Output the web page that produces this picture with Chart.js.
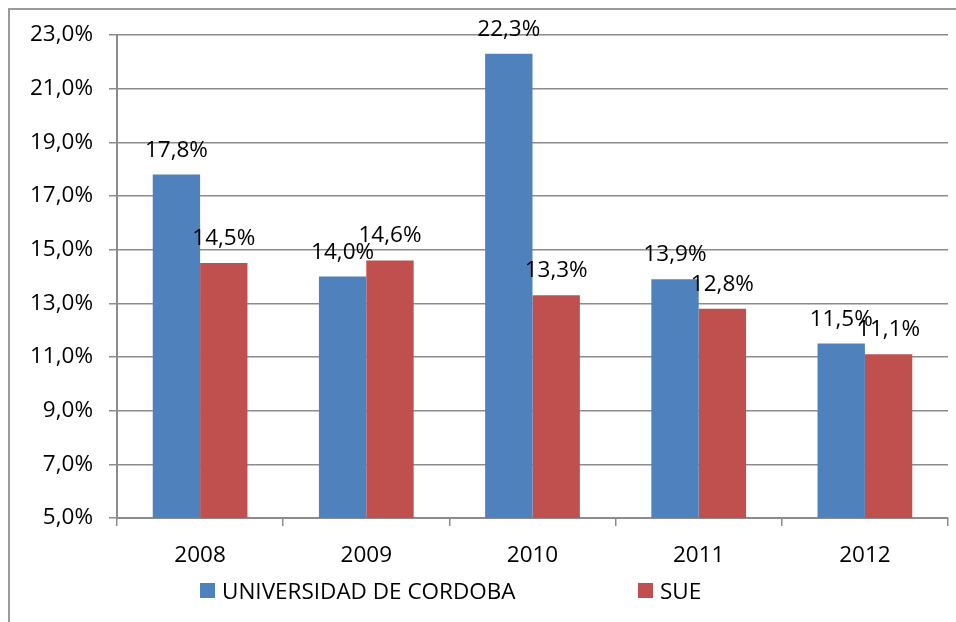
<!DOCTYPE html>
<html>
<head>
<meta charset="utf-8">
<script src="https://cdn.jsdelivr.net/npm/chart.js@4"></script>
<style>
  html, body { margin: 0; padding: 0; background: #fff; overflow: hidden; }
  #wrap { position: relative; width: 956px; height: 622px; }
  #frame { position: absolute; left: 8px; top: 8px; width: 1000px; height: 700px; border-left: 2px solid #9a9a9a; border-top: 2px solid #9a9a9a; }
  #chart { position: absolute; left: 0; top: 0; }
  #legend { position: absolute; left: 200px; top: 577px; display: grid; grid-template-columns: 438px auto;
            font-family: 'Open Sans', sans-serif; font-size: 22.5px; color: #000; }
  .lg-item { display: flex; align-items: center; height: 26px; }
  .lg-box { width: 15px; height: 15px; margin-right: 7px; flex-shrink: 0; }
</style>
</head>
<body>
<div id="wrap">
  <div id="frame"></div>
  <canvas id="chart" width="956" height="622"></canvas>
  <div id="legend"></div>
</div>
<script>
// --- données ---
const years      = ['2008', '2009', '2010', '2011', '2012'];
const udcValues  = [17.8, 14.0, 22.3, 13.9, 11.5];
const sueValues  = [14.5, 14.6, 13.3, 12.8, 11.1];
const seriesNames  = ['UNIVERSIDAD DE CORDOBA', 'SUE'];
const seriesColors = ['#4F81BD', '#C0504D'];

const fmt = v => v.toFixed(1).replace('.', ',') + '%';
const FS = 22.5;

Chart.defaults.font.family = "'Open Sans', sans-serif";
Chart.defaults.font.size = FS;
Chart.defaults.color = '#000';

// étiquettes au-dessus des barres
const barLabels = {
  id: 'barLabels',
  afterDatasetsDraw(chart) {
    const ctx = chart.ctx;
    ctx.save();
    ctx.font = FS + "px 'Open Sans', sans-serif";
    ctx.fillStyle = '#000';
    ctx.textAlign = 'center';
    ctx.textBaseline = 'alphabetic';
    chart.data.datasets.forEach((ds, di) => {
      chart.getDatasetMeta(di).data.forEach((bar, i) => {
        ctx.fillText(fmt(ds.data[i]), bar.x, bar.y - 18);
      });
    });
    ctx.restore();
  }
};

const gridColor = '#8c8c8c';

new Chart(document.getElementById('chart'), {
  type: 'bar',
  data: {
    labels: years,
    datasets: [
      { label: seriesNames[0], data: udcValues, backgroundColor: seriesColors[0], borderWidth: 0 },
      { label: seriesNames[1], data: sueValues, backgroundColor: seriesColors[1], borderWidth: 0 },
    ]
  },
  options: {
    responsive: false,
    animation: false,
    layout: { padding: { top: 35, right: 8, bottom: 0, left: 0 } },
    datasets: { bar: { categoryPercentage: 0.57, barPercentage: 1.0 } },
    plugins: { legend: { display: false }, tooltip: { enabled: false } },
    scales: {
      x: {
        grid: { drawOnChartArea: false, drawTicks: true, tickLength: 8, color: gridColor, lineWidth: 1.5 },
        border: { color: gridColor, width: 2 },
        ticks: { padding: 16, font: { size: FS }, color: '#000' },
        afterFit: s => { s.height = 104; },
      },
      y: {
        min: 5, max: 23,
        grid: { color: gridColor, lineWidth: 1.5, tickLength: 8 },
        border: { color: gridColor, width: 2 },
        ticks: { stepSize: 2, padding: 16, callback: v => fmt(v), color: '#000', font: { size: FS } },
        afterFit: s => { s.width = 117; },
      }
    }
  },
  plugins: [barLabels]
});

// légende HTML
document.getElementById('legend').innerHTML = seriesNames.map((n, i) =>
  `<div class="lg-item"><span class="lg-box" style="background:${seriesColors[i]}"></span><span>${n}</span></div>`
).join('');
</script>
</body>
</html>
